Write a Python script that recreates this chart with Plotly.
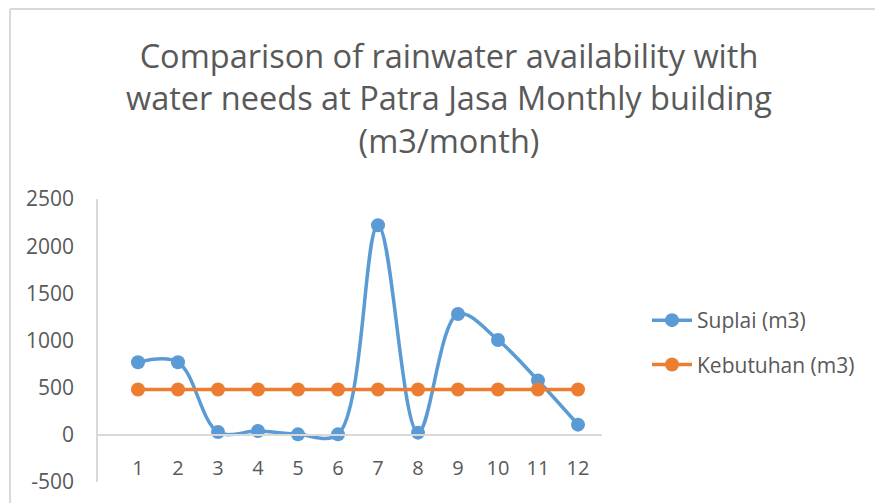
import plotly.graph_objects as go

months = [1, 2, 3, 4, 5, 6, 7, 8, 9, 10, 11, 12]
suplai = [770, 770, 30, 40, 5, 5, 2222, 23, 1281, 1006, 576, 108]
kebutuhan = [480] * 12
y_ticks = [-500, 0, 500, 1000, 1500, 2000, 2500]

blue = "#5B9BD5"
orange = "#ED7D31"
txt = "#595959"
grid = "#D9D9D9"
font = "Open Sans"

W, H = 875, 503
L, R, T, B = 98, 602, 199, 482

fig = go.Figure()
fig.add_trace(go.Scatter(
    x=months, y=suplai, name="Suplai (m3)", mode="lines+markers", legendgroup="a",
    line=dict(color=blue, width=3.5, shape="spline", smoothing=1.0),
    marker=dict(color=blue, size=14),
))
fig.add_trace(go.Scatter(
    x=months, y=kebutuhan, name="Kebutuhan (m3)", mode="lines+markers", legendgroup="b",
    line=dict(color=orange, width=3.5),
    marker=dict(color=orange, size=14),
))

def px_to_paper_x(px):
    return (px - L) / (R - L)

def px_to_paper_y(py):
    return (B - py) / (B - T)

fig.update_layout(
    width=W, height=H,
    margin=dict(l=L, r=W - R, t=T, b=H - B, pad=0, autoexpand=False),
    paper_bgcolor="white", plot_bgcolor="white",
    font=dict(family=font, color=txt),
    title=dict(
        text="Comparison of rainwater availability with<br>water needs at Patra Jasa Monthly building<br>(m3/month)",
        x=449 / W, xanchor="center", xref="container",
        y=1 - 68 / H, yanchor="top", yref="container",
        font=dict(size=32.5, color=txt, family=font),
    ),
    xaxis=dict(
        range=[0, 12.6], tickvals=months, ticktext=[str(m) for m in months],
        showgrid=False, zeroline=False, showline=True, linecolor=grid, linewidth=1.5,
        anchor="free", position=(0 - y_ticks[0]) / (y_ticks[-1] - y_ticks[0]),
        ticks="", ticklabelstandoff=15, automargin=False,
        tickfont=dict(size=20, color=txt, family=font),
    ),
    yaxis=dict(
        range=[y_ticks[0], y_ticks[-1]], tickvals=y_ticks, ticktext=[str(v) for v in y_ticks],
        showgrid=False, zeroline=False, showline=True, linecolor=grid, linewidth=1.5,
        ticks="", ticklabelstandoff=18, automargin=False,
        tickfont=dict(size=21, color=txt, family=font),
    ),
    legend=dict(
        x=px_to_paper_x(647), xanchor="left", y=px_to_paper_y(300), yanchor="top",
        font=dict(size=21, color=txt, family=font),
        tracegroupgap=14, itemwidth=40, bgcolor="rgba(0,0,0,0)",
    ),
    showlegend=True,
    shapes=[
        dict(type="line", xref="paper", yref="paper",
             x0=px_to_paper_x(10), x1=px_to_paper_x(876), y0=px_to_paper_y(9), y1=px_to_paper_y(9),
             line=dict(color=grid, width=2)),
        dict(type="line", xref="paper", yref="paper",
             x0=px_to_paper_x(10), x1=px_to_paper_x(10), y0=px_to_paper_y(9), y1=px_to_paper_y(504),
             line=dict(color=grid, width=2)),
    ],
)

fig.write_html("out.html", config={"displayModeBar": False},
               post_script="document.body.style.margin='0';document.body.style.overflow='hidden';")
